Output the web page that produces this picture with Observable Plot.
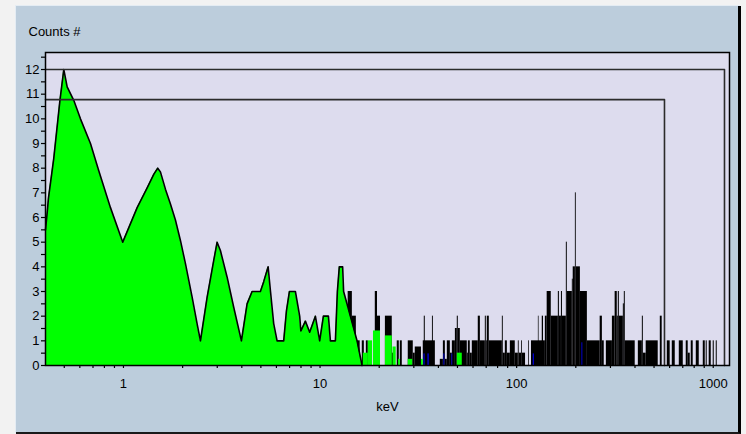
<!DOCTYPE html>
<html><head><meta charset="utf-8">
<script src="https://cdn.jsdelivr.net/npm/d3@7"></script>
<script src="https://cdn.jsdelivr.net/npm/@observablehq/plot@0.6"></script>
<style>
html,body{margin:0;padding:0;background:#f2f2f2;width:746px;height:434px;overflow:hidden;}
#panel{position:absolute;left:16px;top:6px;width:722px;height:426px;background:#bccddc;border-right:3px solid #000;border-bottom:2px solid #1a1a1a;box-shadow:-1px -1px 0 #e4ecf3;}
#panel svg{position:absolute;left:0;top:0;overflow:visible;}
</style></head><body><div id="panel"></div>
<script>
// Titles
const yTitle = "Counts #";
const xTitle = "keV";

// Axis ticks
const xTicks = [1, 10, 100, 1000];
const xMinorTicks = [0.5,0.6,0.7,0.8,0.9, 2,3,4,5,6,7,8,9, 20,30,40,50,60,70,80,90, 200,300,400,500,600,700,800,900];
const yTicks = [0,1,2,3,4,5,6,7,8,9,10,11,12];
const yMinorTicks = [0.5,1.5,2.5,3.5,4.5,5.5,6.5,7.5,8.5,9.5,10.5,11.5,12.5];

// Scale extents (keV, counts)
const xDomain = [0.4013, 1210];
const yDomain = [0, 12.69];

// Green spectrum (energy in keV, counts)
const greenEnergy = [0.4013,0.4093,0.4156,0.4421,0.4745,0.4971,0.5172,0.5588,0.6044,0.6796,0.7489,0.8589,0.9918,
  1.174,1.320,1.426,1.494,1.542,1.635,1.734,1.838,1.949,2.067,2.235,2.370,2.464,2.665,2.879,2.995,3.113,3.368,3.638,3.981,
  4.255,4.512,4.973,5.169,5.443,5.591,5.811,6.047,6.533,6.743,6.984,7.492,7.878,7.989,8.423,8.857,9.468,9.957,
  10.40,11.03,11.29,11.97,12.25,12.53,13.03,13.18,14.27,15.43,16.36];
const greenCounts = [5.5,6.2,6.8,8.4,10.7,12.0,11.3,10.75,10.0,9.0,7.9,6.4,5.0,
  6.4,7.2,7.75,8.0,7.85,7.15,6.55,5.9,5.07,4.13,2.77,1.69,1.0,2.77,4.26,5.0,4.66,3.58,2.36,1.0,
  2.5,3.0,3.0,3.4,4.0,3.04,1.7,1.0,1.0,2.2,3.0,3.0,2.0,1.4,1.8,1.35,2.0,1.0,
  2.0,2.0,1.0,1.0,3.0,4.0,4.0,3.0,2.0,1.0,0];

// Black channel histogram: [low keV, high keV, counts]
const blackBins = [
  [13.9,14.6,3],[14.6,15.3,2],[15.3,16.0,1],[16.4,16.8,1],[17.2,17.6,1],[19.1,19.6,3],[19.6,20.3,2],
  [21.5,23.3,2],[23.3,24.2,0.5],[24.7,25.3,1],[25.6,26.2,1],[28.1,29.8,1],[29.8,30.5,0.5],[30.5,32.8,0.75],
  [33.5,38.6,1],[33.9,34.3,2],[37.3,37.7,2],[40.9,42.4,0.25],[42.4,43.4,1],[43.4,44.4,0.25],[44.4,46.0,1],
  [46.0,47.1,0.5],[47.1,48.8,1],[48.8,49.9,1.5],[49.9,50.5,2],[50.5,51.7,1.5],[51.7,56.1,1],[56.1,56.8,0.5],
  [56.8,58.1,1],[58.1,59.5,0.5],[59.5,63.8,1],[63.8,65.4,2],[65.4,69.3,1],[69.3,70.1,2],[70.1,70.9,1],
  [70.9,72.6,2],[72.6,84.6,1],[84.6,85.5,2],[85.5,87.6,0.5],[87.6,89.7,1],[89.7,92.9,0.5],[92.9,98.4,1],
  [98.4,102,0.5],[102,103,1],[103,106,0.5],[106,107,1],[107,111,0.5],[115,116,1],[119,140,1],[129,130,2],
  [135,137,2],[140,143,2],[143,150,3],[150,163,2],[163,165,3],[165,169,2],[169,171,3],[171,179,2],
  [179,181,5],[181,192,3],[192,194,3.5],[194,199,4],[199,201,7],[201,211,4],[211,229,3],[229,266,1],
  [266,273,2],[273,279,1],[286,307,1],[307,317,2],[317,325,3],[325,329,2],[329,333,3],[333,349,2],
  [349,353,2.5],[353,357,3],[357,401,1],[416,436,1],[436,441,2],[441,456,0.5],[456,525,1],[538,550,2],
  [584,604,1],[619,641,1],[672,704,1],[729,746,1],[746,764,0.5],[773,791,1],[820,849,1],[890,911,1],
  [921,932,1],[954,977,1],[1000,1012,1],[1036,1048,1]
];

// Green channels above the main green area
const greenBars = [
  [16.6,17.6,0.5],[17.6,18.5,1],[18.7,20.3,1.4],[21.5,23.3,1.2],[23.5,24.4,0.75],[25.1,25.6,0.25],
  [28.1,29.6,0.25],[32.8,33.5,0.25],[49.9,52.9,0.5]
];

// Blue channels
const blueBars = [
  [33.8,34.2,0.47],[35.4,35.9,0.47],[42.7,43.1,0.47],[46.9,47.3,0.47],[121.5,123,0.47],[215,217,0.92]
];

// Off-scale channels drawn as boxes (energy keV, drawn level)
const overflowEnergy = [1141, 565];
const overflowLevel = [12, 10.78];

const green = greenEnergy.map((e, i) => ({e, c: greenCounts[i], base: 0}));
const rows = arr => arr.map(([lo, hi, c]) => ({lo, hi, c, base: 0}));
const overflow = overflowEnergy.flatMap((e, i) => [
  {e: xDomain[0], c: overflowLevel[i], k: i},
  {e, c: overflowLevel[i], k: i},
  {e, c: 0, k: i}
]);

const chart = Plot.plot({
  width: 722, height: 420,
  marginLeft: 29, marginRight: 9, marginTop: 46, marginBottom: 61,
  x: {type: "log", domain: xDomain, label: null},
  y: {domain: yDomain, label: null},
  style: {fontFamily: "'Liberation Sans', Arial, sans-serif", fontSize: "13px", color: "#000", background: "transparent", overflow: "visible"},
  marks: [
    Plot.frame({fill: "#dddcee"}),
    Plot.rect(rows(blackBins), {x1: "lo", x2: "hi", y1: "base", y2: "c", fill: "#000"}),
    Plot.area(green, {x1: "e", y1: "base", y2: "c", fill: "#00ff00"}),
    Plot.line(green, {x: "e", y: "c", stroke: "#000", strokeWidth: 1.6}),
    Plot.rect(rows(greenBars), {x1: "lo", x2: "hi", y1: "base", y2: "c", fill: "#00ff00"}),
    Plot.rect(rows(blueBars), {x1: "lo", x2: "hi", y1: "base", y2: "c", fill: "#0000ff"}),
    Plot.line(overflow, {x: "e", y: "c", z: "k", stroke: "#2b2b2b", strokeWidth: 1.6}),
    Plot.frame({stroke: "#000", strokeWidth: 1.5}),
    Plot.axisY(yMinorTicks, {tickSize: 4, tickFormat: () => "", strokeWidth: 1.2}),
    Plot.axisY(yTicks, {tickSize: 4, tickPadding: 2, strokeWidth: 1.2}),
    Plot.axisX(xMinorTicks, {tickSize: 3, tickFormat: () => "", strokeWidth: 1.2}),
    Plot.axisX(xTicks, {tickSize: 3, tickPadding: 10, tickFormat: d => String(d), strokeWidth: 1.2}),
    Plot.text([yTitle], {text: d => d, frameAnchor: "top-left", lineAnchor: "middle", dx: -17, dy: -21, textAnchor: "start", fontSize: 13}),
    Plot.text([xTitle], {text: d => d, frameAnchor: "bottom", lineAnchor: "middle", dy: 41, fontSize: 13})
  ]
});
document.getElementById("panel").appendChild(chart);
</script>
</body></html>
